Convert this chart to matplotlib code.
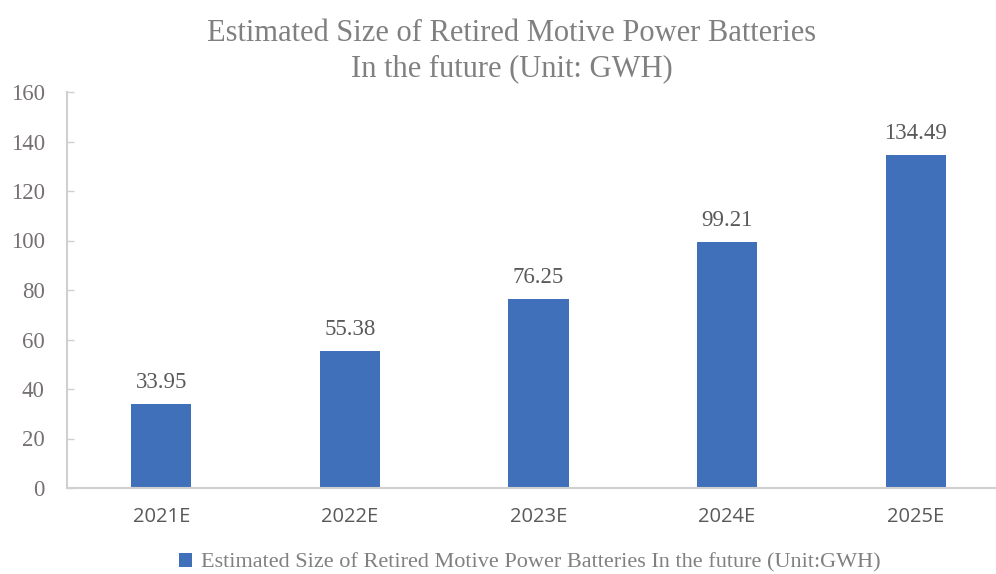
import matplotlib
matplotlib.use("Agg")
import matplotlib.pyplot as plt
from matplotlib.patches import Patch

categories = ["2021E", "2022E", "2023E", "2024E", "2025E"]
values = [33.95, 55.38, 76.25, 99.21, 134.49]
yticks = [0, 20, 40, 60, 80, 100, 120, 140, 160]
title = "Estimated Size of Retired Motive Power Batteries\nIn the future (Unit: GWH)"
legend_label = "Estimated Size of Retired Motive Power Batteries In the future (Unit:GWH)"

bar_color = "#4070BA"
serif = ["Liberation Serif", "DejaVu Serif"]
sans = ["Open Sans", "DejaVu Sans"]

fig = plt.figure(figsize=(9.96, 5.74), dpi=100)
ax = fig.add_axes([67/996, 86/574, 943/996, 396/574])

x = list(range(len(categories)))
bars = ax.bar(x, values, width=0.32, color=bar_color, zorder=2)
ax.set_xlim(-0.5, 4.5)
ax.set_ylim(0, 160)
ax.set_yticks(yticks)
ax.set_yticklabels([str(t) for t in yticks], fontfamily=serif, fontsize=16.5, color="#767171")
ax.set_xticks(x)
ax.set_xticklabels(categories, fontfamily=sans, fontsize=14.5, color="#595959")

for s in ["top", "right"]:
    ax.spines[s].set_visible(False)
for s in ["left", "bottom"]:
    ax.spines[s].set_color("#d0d0d0")
    ax.spines[s].set_linewidth(1.5)
ax.tick_params(axis="y", direction="in", length=5, color="#d0d0d0", width=1, pad=16)
ax.tick_params(axis="x", length=0, pad=14)

for xi, v in zip(x, values):
    ax.annotate(f"{v:.2f}", xy=(xi, v), xytext=(0, 8), textcoords="offset points",
                ha="center", va="bottom", fontfamily=serif, fontsize=16.5, color="#595959")

fig.text(512/996, 1 - 51/574, title, ha="center", va="center", fontfamily=serif,
         fontsize=22, color="#808080", linespacing=1.25)

handle = Patch(facecolor=bar_color, edgecolor="none")
fig.legend([handle], [legend_label], loc="center", bbox_to_anchor=(530/996, 1 - 563/574),
           frameon=False, prop={"family": serif, "size": 16}, labelcolor="#808080",
           handlelength=0.6, handleheight=0.6, handletextpad=0.4)

fig.savefig("out.png", dpi=100)
